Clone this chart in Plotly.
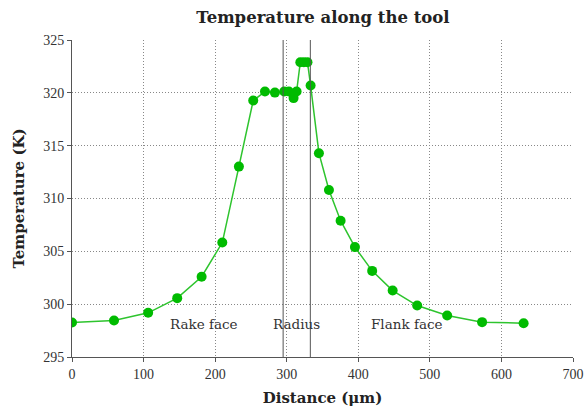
import plotly.graph_objects as go

distance = [0, 58.7, 106.4, 147, 181.1, 210, 233.2, 253.2, 269.6, 283.5, 296.5, 303,
            309.6, 313.8, 319, 324, 329, 333.4, 345, 359, 375.3, 395.3, 419.4, 448,
            482.3, 524.2, 573, 631]
temperature = [298.26, 298.45, 299.18, 300.57, 302.6, 305.83, 313.02, 319.27, 320.12,
               320.02, 320.12, 320.12, 319.5, 320.12, 322.9, 322.9, 322.9, 320.69,
               314.29, 310.8, 307.9, 305.4, 303.15, 301.29, 299.87, 298.93, 298.3, 298.2]

region_bounds = [295, 333]
region_labels = ["Rake face", "Radius", "Flank face"]
region_label_x = [185, 313, 468]
region_label_y = 298.1

SERIF = "Liberation Serif, serif"
WIDE = "DejaVu Serif, serif"

fig = go.Figure()
fig.add_trace(go.Scatter(
    x=distance, y=temperature, mode="lines+markers",
    line=dict(color="#2ec42e", width=1.5),
    marker=dict(color="#00bb00", size=10),
    showlegend=False,
))

for xb in region_bounds:
    fig.add_shape(type="line", x0=xb, x1=xb, xref="x", y0=0, y1=1, yref="paper",
                  line=dict(color="#555555", width=1))

for lab, lx in zip(region_labels, region_label_x):
    fig.add_annotation(x=lx, y=region_label_y, text=lab, showarrow=False,
                       font=dict(family=WIDE, size=13.5, color="#333333"))

grid = dict(showgrid=True, gridcolor="#888888", griddash="1px,2px", gridwidth=1,
            showline=True, linecolor="#555555", linewidth=1,
            ticks="outside", ticklen=4, tickcolor="#555555", automargin=False,
            tickfont=dict(family=SERIF, size=14, color="#333333"), zeroline=False)

fig.update_layout(
    width=585, height=414,
    margin=dict(l=72, r=12, t=40, b=57),
    paper_bgcolor="white", plot_bgcolor="white",
    title=dict(text="<b>Temperature along the tool</b>", x=0.552, xanchor="center",
               y=0.958, yanchor="middle",
               font=dict(family=WIDE, size=16.5, color="#222222")),
    xaxis=dict(range=[0, 700], dtick=100, **grid,
               title=dict(text="<b>Distance (μm)</b>", standoff=11,
                          font=dict(family=WIDE, size=15, color="#222222"))),
    yaxis=dict(range=[295, 325], dtick=5, **grid,
               title=dict(text="<b>Temperature (K)</b>", standoff=14,
                          font=dict(family=WIDE, size=15, color="#222222"))),
)

fig.write_html("out.html")
